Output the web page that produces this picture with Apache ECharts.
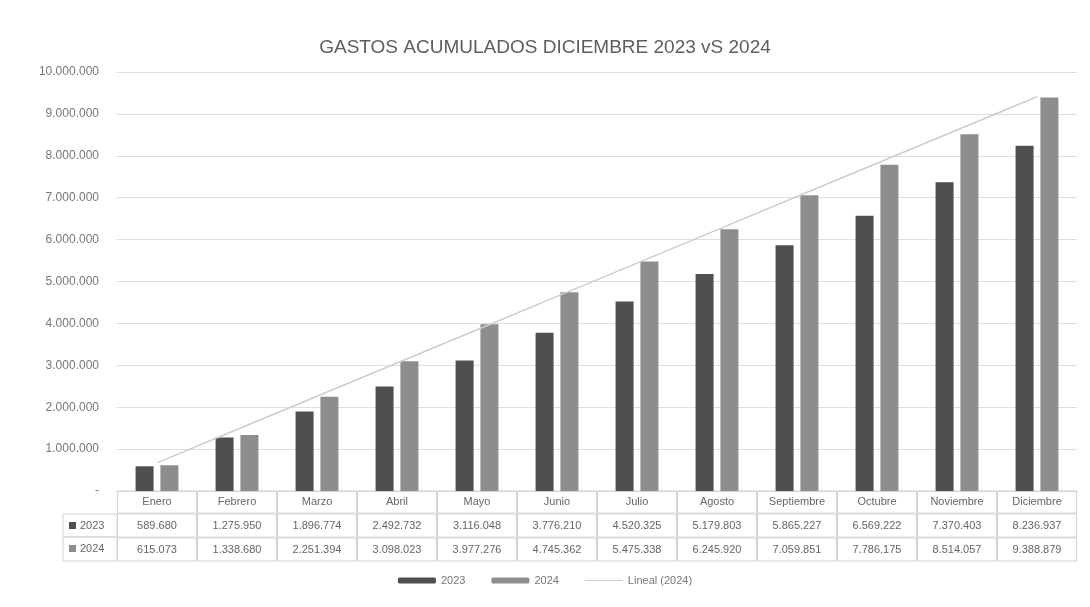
<!DOCTYPE html>
<html>
<head>
<meta charset="utf-8">
<script src="https://cdn.jsdelivr.net/npm/echarts@6/dist/echarts.min.js"></script>
<style>
html,body{margin:0;padding:0;background:#fff;}
#chart{width:1090px;height:607px;}
</style>
</head>
<body>
<div id="chart"></div>
<script>
const categories = ['Enero','Febrero','Marzo','Abril','Mayo','Junio','Julio','Agosto','Septiembre','Octubre','Noviembre','Diciembre'];
const values2023 = [589680,1275950,1896774,2492732,3116048,3776210,4520325,5179803,5865227,6569222,7370403,8236937];
const values2024 = [615073,1338680,2251394,3098023,3977276,4745362,5475338,6245920,7059851,7786175,8514057,9388879];
const seriesNames = ['2023','2024','Lineal (2024)'];
const titleText = 'GASTOS ACUMULADOS DICIEMBRE 2023 vS 2024';

function fmt(n){ return n === 0 ? '-' : String(Math.round(n)).replace(/\B(?=(\d{3})+(?!\d))/g,'.'); }

// linear trendline (least squares) of the 2024 series
function linearTrend(vals){
  const n = vals.length;
  let sx=0, sy=0, sxy=0, sxx=0;
  vals.forEach((v,i)=>{ const x=i+1; sx+=x; sy+=v; sxy+=x*v; sxx+=x*x; });
  const b = (n*sxy - sx*sy)/(n*sxx - sx*sx);
  const a = (sy - b*sx)/n;
  return vals.map((v,i)=> a + b*(i+1));
}
const trend2024 = linearTrend(values2024);

const C23 = '#4f4f4f', C24 = '#8d8d8d', CTR = '#cdcdcd';
const FONT = 'Liberation Sans';
const cellW = 80;

const chart = echarts.init(document.getElementById('chart'));
const tableLabel = (arr, h) => ({
  show: true, interval: 0, margin: 0,
  formatter: (v, i) => arr ? fmt(arr[i]) : v,
  width: cellW - 1, height: h, lineHeight: h, align: 'center',
  borderColor: '#d4d4d4', borderWidth: 1, padding: 0,
  color: '#666', fontSize: 11, fontFamily: FONT
});

chart.setOption({
  backgroundColor: '#fff',
  animation: false,
  title: {
    text: titleText, left: 'center', top: 33,
    textStyle: { color: '#5e5e5e', fontSize: 19, fontWeight: 'normal', fontFamily: FONT }
  },
  grid: { left: 117, right: 13, top: 72, bottom: 116 },
  legend: {
    data: [ { name: seriesNames[0] }, { name: seriesNames[1] },
            { name: seriesNames[2], icon: 'path://M0,0L0.01,0M0,2.4L38,2.4L38,3.6L0,3.6ZM0,6L0.01,6' } ],
    bottom: 16, left: 'center', itemGap: 26,
    itemWidth: 38, itemHeight: 6,
    textStyle: { color: '#777', fontSize: 11, fontFamily: FONT }
  },
  xAxis: [
    { type: 'category', data: categories, position: 'bottom',
      axisLine: { show: true, lineStyle: { color: '#d4d4d4' } }, axisTick: { show: false },
      axisLabel: tableLabel(null, 22) },
    { type: 'category', data: categories, position: 'bottom', offset: 23,
      axisLine: { show: false }, axisTick: { show: false },
      axisLabel: tableLabel(values2023, 23) },
    { type: 'category', data: categories, position: 'bottom', offset: 47,
      axisLine: { show: false }, axisTick: { show: false },
      axisLabel: tableLabel(values2024, 23) }
  ],
  yAxis: {
    type: 'value', min: 0, max: 10000000, interval: 1000000,
    axisLine: { show: false }, axisTick: { show: false },
    splitLine: { lineStyle: { color: '#dedede' } },
    axisLabel: { formatter: fmt, color: '#777', fontSize: 12, fontFamily: FONT, margin: 18 }
  },
  series: [
    { name: seriesNames[0], type: 'bar', data: values2023, barWidth: 18, barGap: '38%',
      itemStyle: { color: C23 } },
    { name: seriesNames[1], type: 'bar', data: values2024, barWidth: 18,
      itemStyle: { color: C24 } },
    { name: seriesNames[2], type: 'line', data: trend2024, symbol: 'none',
      lineStyle: { color: CTR, width: 1.5 }, itemStyle: { color: CTR } }
  ],
  graphic: [
    { type: 'rect', shape: { x: 63, y: 514, width: 54, height: 23 }, style: { fill: 'none', stroke: '#d4d4d4', lineWidth: 1 } },
    { type: 'rect', shape: { x: 63, y: 537, width: 54, height: 24 }, style: { fill: 'none', stroke: '#d4d4d4', lineWidth: 1 } },
    { type: 'rect', shape: { x: 69, y: 522, width: 7, height: 7 }, style: { fill: C23 } },
    { type: 'rect', shape: { x: 69, y: 545, width: 7, height: 7 }, style: { fill: C24 } },
    { type: 'text', x: 80, y: 520, style: { text: '2023', fill: '#666', fontSize: 11, fontFamily: FONT } },
    { type: 'text', x: 80, y: 543, style: { text: '2024', fill: '#666', fontSize: 11, fontFamily: FONT } }
  ]
});
</script>
</body>
</html>
